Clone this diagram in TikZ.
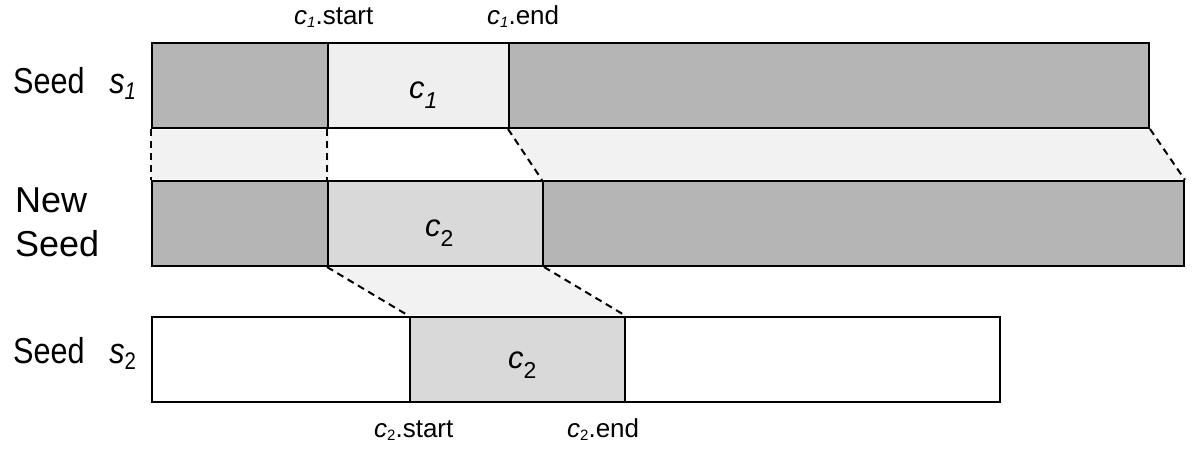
\documentclass[tikz,border=0pt]{standalone}
\usepackage{fontspec}
\setmainfont{Liberation Sans}
\definecolor{dark}{HTML}{B5B5B5}
\definecolor{cone}{HTML}{EFEFEF}
\definecolor{ctwo}{HTML}{D9D9D9}
\definecolor{gap}{HTML}{F2F2F2}
\newcommand\bigsub[1]{\raisebox{-10pt}{\fontsize{23}{23}\selectfont #1}}
\newcommand\lsub[1]{\raisebox{-6pt}{\fontsize{24}{24}\selectfont #1}}
\newcommand\ssub[1]{\raisebox{-3pt}{\fontsize{15}{15}\selectfont #1}}
\newcommand\seedlab[1]{\scalebox{0.85}[1]{\fontsize{36}{36}\selectfont Seed\hspace{29pt}\textit{s}\lsub{#1}}}
\begin{document}
\begin{tikzpicture}[x=1pt,y=-1pt,
  seg/.style={draw=black,line width=2pt,inner sep=0pt,anchor=north west,minimum height=85pt},
  conn/.style={line width=2pt,dash pattern=on 7pt off 5pt},
  big/.style={font=\fontsize{31}{36}\selectfont,inner sep=0pt},
  row/.style={font=\fontsize{36}{40}\selectfont,inner sep=0pt},
  small/.style={font=\fontsize{26}{30}\selectfont,inner sep=0pt}]
\useasboundingbox (0,0) rectangle (1196,460);
% row 1
\node[seg,fill=dark,minimum width=176pt] (r1a) at (151,42) {};
\node[seg,fill=cone,minimum width=181pt] (r1b) at (327,42) {};
\node[seg,fill=dark,minimum width=640pt] (r1c) at (508,42) {};
% row 2
\node[seg,fill=dark,minimum width=176pt] (r2a) at (151,180) {};
\node[seg,fill=ctwo,minimum width=215pt] (r2b) at (327,180) {};
\node[seg,fill=dark,minimum width=641pt] (r2c) at (542,180) {};
% row 3
\node[seg,fill=white,minimum width=258pt] (r3a) at (151,316) {};
\node[seg,fill=ctwo,minimum width=215pt] (r3b) at (409,316) {};
\node[seg,fill=white,minimum width=375pt] (r3c) at (624,316) {};
% gap fills
\fill[gap] ([yshift=-1pt]r1a.south west) rectangle ([yshift=1pt]r2a.north east);
\fill[gap] ([yshift=-1pt]r1c.south west) -- ([yshift=-1pt]r1c.south east) -- ([yshift=1pt]r2c.north east) -- ([yshift=1pt]r2c.north west) -- cycle;
\fill[gap] ([yshift=-1pt]r2b.south west) -- ([yshift=-1pt]r2b.south east) -- ([yshift=1pt]r3b.north east) -- ([yshift=1pt]r3b.north west) -- cycle;
% dashed connectors
\draw[conn] (r1a.south west) -- (r2a.north west);
\draw[conn] (r1b.south west) -- (r2b.north west);
\draw[conn] (r1c.south west) -- (r2c.north west);
\draw[conn] (r1c.south east) -- (r2c.north east);
\draw[conn] (r2b.south west) -- (r3b.north west);
\draw[conn] (r2b.south east) -- (r3b.north east);
% segment labels
\node[big,anchor=base west] (t1) at (409,98) {\textit{c}\bigsub{\textit{1}}};
\node[big,anchor=base west] (t2) at (425,236) {\textit{c}\bigsub{2}};
\node[big,anchor=base west] (t3) at (508,368) {\textit{c}\bigsub{2}};
% row labels
\node[inner sep=0pt,anchor=base west] (L1) at (13,93) {\seedlab{\textit{1}}};
\node[row,anchor=base west] (L2a) at (15,212) {New};
\node[row,anchor=base west] (L2b) at (15,256) {Seed};
\node[inner sep=0pt,anchor=base west] (L3) at (13,363) {\seedlab{2}};
% position labels
\node[small,anchor=base west] (p1) at (294,25) {\textit{c}\ssub{\textit{1}}.start};
\node[small,anchor=base west] (p2) at (487,25) {\textit{c}\ssub{\textit{1}}.end};
\node[small,anchor=base west] (p3) at (374,437) {\textit{c}\ssub{2}.start};
\node[small,anchor=base west] (p4) at (567,437) {\textit{c}\ssub{2}.end};
\end{tikzpicture}
\end{document}
